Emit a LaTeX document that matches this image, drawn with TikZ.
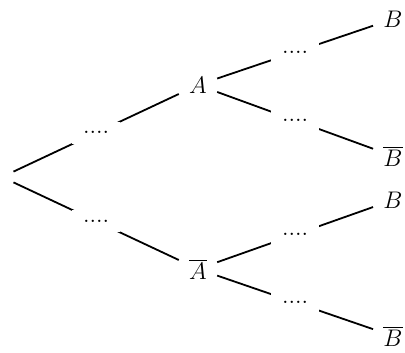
\documentclass[tikz,border=0pt]{standalone}
\begin{document}
\begin{tikzpicture}[x=0.5pt,y=-0.5pt,
  ev/.style={inner sep=5pt, font=\fontsize{13}{15}\selectfont},
  br/.style={line width=0.9pt},
  pr/.style={fill=white, inner xsep=5.5pt, inner ysep=5pt, font=\fontsize{12}{14}\selectfont}]
\useasboundingbox (0,0) rectangle (405,352);
\node[rectangle, inner sep=0, minimum width=12pt, minimum height=5pt] (R) at (2,177) {};
\node[ev] (A) at (198,85) {$A$};
\node[ev] (Ab) at (198,269) {$\overline{A}$};
\node[ev] (B1) at (393,19) {$B$};
\node[ev] (Bb1) at (393,156) {$\overline{B}$};
\node[ev] (B2) at (393,200) {$B$};
\node[ev] (Bb2) at (393,336) {$\overline{B}$};
\draw[br] (R) -- node[pr] {....} (A);
\draw[br] (R) -- node[pr] {....} (Ab);
\draw[br] (A) -- node[pr] {....} (B1);
\draw[br] (A) -- node[pr] {....} (Bb1);
\draw[br] (Ab) -- node[pr] {....} (B2);
\draw[br] (Ab) -- node[pr] {....} (Bb2);
\end{tikzpicture}
\end{document}
